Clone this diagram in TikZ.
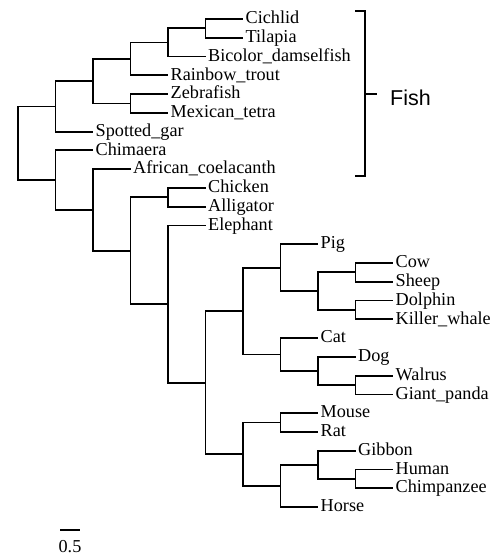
\documentclass[tikz,border=0pt]{standalone}
\usepackage{fontspec}
\setmainfont{Liberation Serif}
\newfontfamily\fishfont{Liberation Sans}
\newcommand\lvx[1]{18+37.5*#1}
\newcommand\lvy[1]{19+18.77*#1}
\begin{document}
\begin{tikzpicture}[x=1pt,y=-1pt,
  branch/.style={line width=1.8pt,line cap=butt,line join=miter},
  lab/.style={anchor=base west,inner sep=0pt,xshift=2.5pt,yshift=-4.7pt,
    font=\fontsize{18.2}{20}\selectfont},
  bracketline/.style={line width=1.8pt,line join=miter}]
\useasboundingbox[fill=white] (0,0) rectangle (495,555);
% internal nodes
\foreach \n/\k/\i in {A/5/0.5, B/4/1.25, C/3/2.125, ZM/3/4.5, D/2/3.3125,
  F/1/4.65625, J/4/9.5, R/9/13.5, S/9/15.5, Q/8/14.5, O/7/13.25, U/9/19.5,
  T/8/18.75, P/7/17.875, M/6/15.5625, V/7/21.5, Y/9/24.5, X/8/23.75,
  W/7/24.875, N/6/23.1875, L/5/19.375, K/4/15.1875, I/3/12.34375,
  H/2/10.171875, G/1/8.5859375, root/0/6.62109375}
  \coordinate (\n) at ({\lvx{\k}},{\lvy{\i}});
% leaf tips
\foreach \n/\k/\i in {cichlid/6/0, tilapia/6/1, bicolor/5/2, rainbow/4/3,
  zebrafish/4/4, mexican/4/5, gar/2/6, chimaera/2/7, coelacanth/3/8,
  chicken/5/9, alligator/5/10, elephant/5/11, pig/8/12, cow/10/13,
  sheep/10/14, dolphin/10/15, killer/10/16, cat/8/17, dog/9/18,
  walrus/10/19, panda/10/20, mouse/8/21, rat/8/22, gibbon/9/23,
  human/10/24, chimp/10/25, horse/8/26}
  \coordinate (\n-tip) at ({\lvx{\k}},{\lvy{\i}});
% labels
\node[lab] (cichlid) at (cichlid-tip) {Cichlid};
\node[lab] (tilapia) at (tilapia-tip) {Tilapia};
\node[lab] (bicolor) at (bicolor-tip) {Bicolor\_damselfish};
\node[lab] (rainbow) at (rainbow-tip) {Rainbow\_trout};
\node[lab] (zebrafish) at (zebrafish-tip) {Zebrafish};
\node[lab] (mexican) at (mexican-tip) {Mexican\_tetra};
\node[lab] (gar) at (gar-tip) {Spotted\_gar};
\node[lab] (chimaera) at (chimaera-tip) {Chimaera};
\node[lab] (coelacanth) at (coelacanth-tip) {African\_coelacanth};
\node[lab] (chicken) at (chicken-tip) {Chicken};
\node[lab] (alligator) at (alligator-tip) {Alligator};
\node[lab] (elephant) at (elephant-tip) {Elephant};
\node[lab] (pig) at (pig-tip) {Pig};
\node[lab] (cow) at (cow-tip) {Cow};
\node[lab] (sheep) at (sheep-tip) {Sheep};
\node[lab] (dolphin) at (dolphin-tip) {Dolphin};
\node[lab] (killer) at (killer-tip) {Killer\_whale};
\node[lab] (cat) at (cat-tip) {Cat};
\node[lab] (dog) at (dog-tip) {Dog};
\node[lab] (walrus) at (walrus-tip) {Walrus};
\node[lab] (panda) at (panda-tip) {Giant\_panda};
\node[lab] (mouse) at (mouse-tip) {Mouse};
\node[lab] (rat) at (rat-tip) {Rat};
\node[lab] (gibbon) at (gibbon-tip) {Gibbon};
\node[lab] (human) at (human-tip) {Human};
\node[lab] (chimp) at (chimp-tip) {Chimpanzee};
\node[lab] (horse) at (horse-tip) {Horse};
% branches
\foreach \p/\c in {root/F, root/G, F/D, F/gar-tip, D/C, D/ZM, C/B,
  C/rainbow-tip, B/A, B/bicolor-tip, A/cichlid-tip, A/tilapia-tip,
  ZM/zebrafish-tip, ZM/mexican-tip, G/chimaera-tip, G/H, H/coelacanth-tip,
  H/I, I/J, I/K, J/chicken-tip, J/alligator-tip, K/elephant-tip, K/L,
  L/M, L/N, M/O, M/P, O/pig-tip, O/Q, Q/R, Q/S, R/cow-tip, R/sheep-tip,
  S/dolphin-tip, S/killer-tip, P/cat-tip, P/T, T/dog-tip, T/U,
  U/walrus-tip, U/panda-tip, N/V, N/W, V/mouse-tip, V/rat-tip, W/X,
  W/horse-tip, X/gibbon-tip, X/Y, Y/human-tip, Y/chimp-tip}
  \draw[branch] (\p) |- (\c);
% Fish bracket
\coordinate (bt) at (355,10.7);
\coordinate (bct) at (365,10.7);
\coordinate (bcb) at (365,176);
\coordinate (bb) at (355,176);
\coordinate (bm) at (365,94);
\coordinate (bmr) at (377,94);
\draw[bracketline] (bt) -- (bct) -- (bcb) -- (bb);
\draw[bracketline] (bm) -- (bmr);
\node[anchor=base west,inner sep=0pt,font=\fishfont\fontsize{21.5}{24}\selectfont]
  (fish) at (390,105) {Fish};
% scale bar
\coordinate (sb1) at (60,530);
\coordinate (sb2) at (80,530);
\draw[line width=1.8pt] (sb1) -- (sb2);
\node[anchor=base,inner sep=0pt,font=\fontsize{18.2}{20}\selectfont]
  (sblab) at (70,552) {0.5};
\end{tikzpicture}
\end{document}
